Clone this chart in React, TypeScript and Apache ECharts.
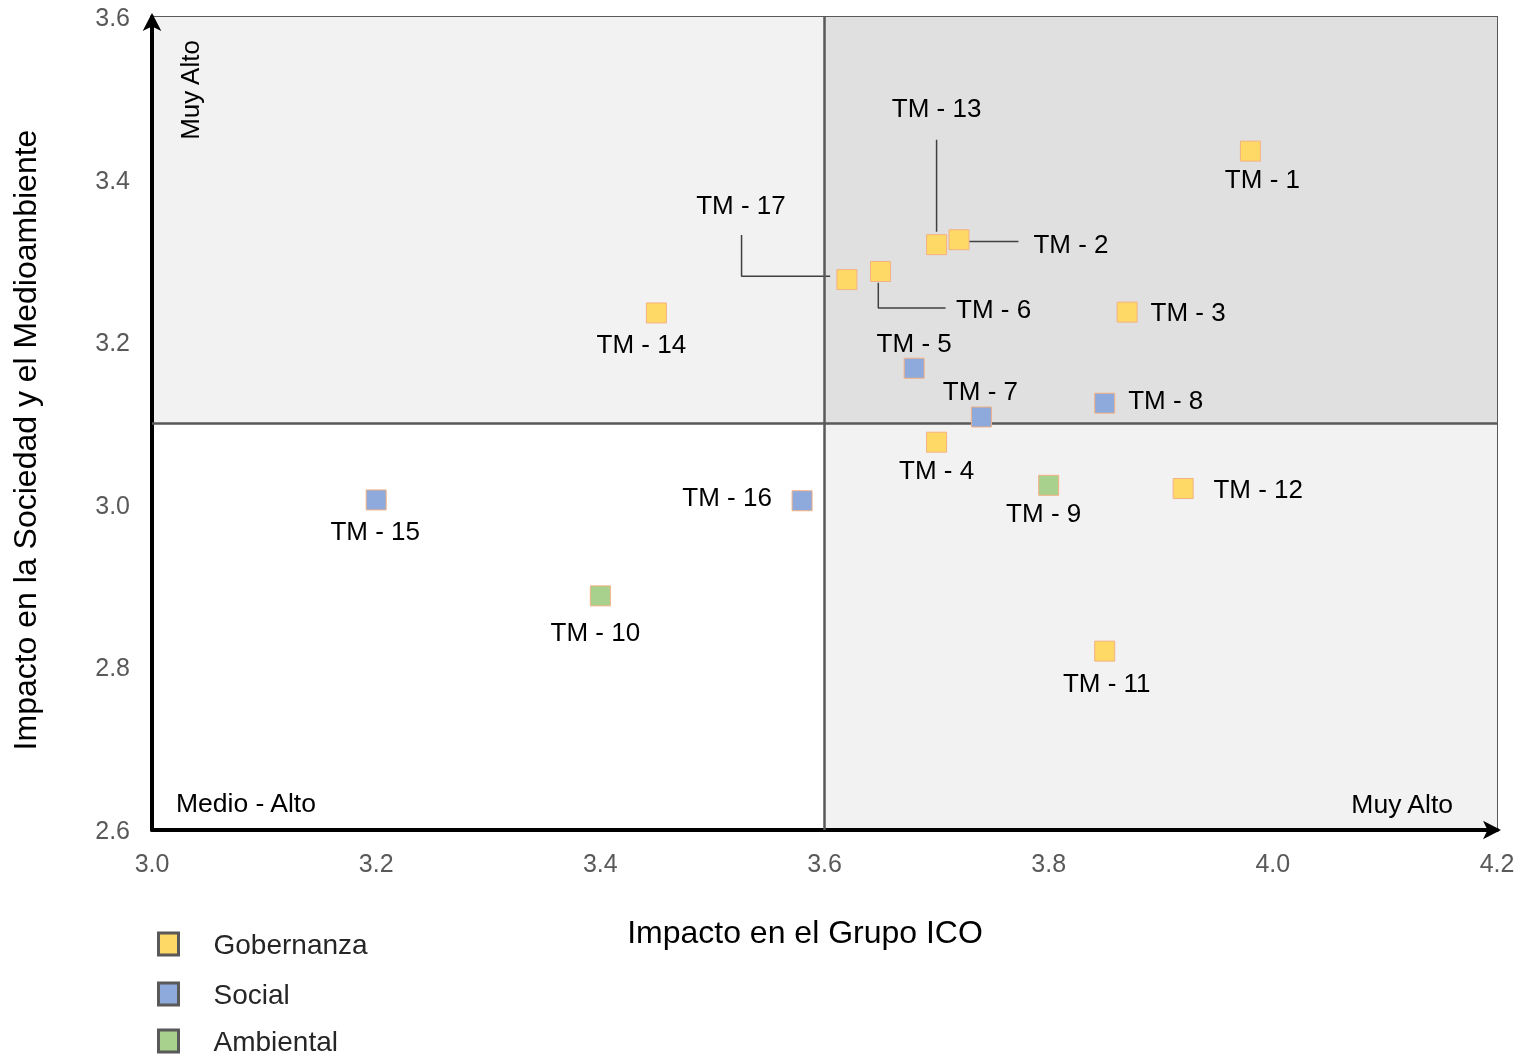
import React, { useEffect, useRef } from "react";
import * as echarts from "echarts";

// ---- data ----
const xTicks = [3.0, 4.2, 0.2]; // min, max, interval
const yTicks = [2.6, 3.6, 0.2];
const xSplit = 3.6;
const ySplit = 3.1;

const categories = ["Gobernanza", "Social", "Ambiental"];

const gobernanza: [number, number, string][] = [
  [3.98, 3.435, "TM - 1"],
  [3.70, 3.32, "TM - 13"],
  [3.72, 3.326, "TM - 2"],
  [3.62, 3.277, "TM - 17"],
  [3.65, 3.287, "TM - 6"],
  [3.45, 3.236, "TM - 14"],
  [3.87, 3.237, "TM - 3"],
  [3.70, 3.077, "TM - 4"],
  [3.92, 3.02, "TM - 12"],
  [3.85, 2.82, "TM - 11"],
];
const social: [number, number, string][] = [
  [3.68, 3.168, "TM - 5"],
  [3.85, 3.125, "TM - 8"],
  [3.74, 3.108, "TM - 7"],
  [3.20, 3.006, "TM - 15"],
  [3.58, 3.005, "TM - 16"],
];
const ambiental: [number, number, string][] = [
  [3.80, 3.024, "TM - 9"],
  [3.40, 2.888, "TM - 10"],
];

// leader lines (data coordinates)
const leader13 = [[3.70, 3.449], [3.70, 3.336]];
const leader2 = [[3.728, 3.324], [3.773, 3.324]];
const leader17 = [[3.526, 3.332], [3.526, 3.281], [3.605, 3.281]];
const leader6 = [[3.648, 3.273], [3.648, 3.242], [3.708, 3.242]];

// label offsets (style)
const labelOffset: Record<string, [number, number]> = {
  "TM - 1": [12, 28],
  "TM - 13": [0, -137],
  "TM - 2": [112, 4],
  "TM - 17": [-106, -75],
  "TM - 6": [113, 38],
  "TM - 14": [-15, 31],
  "TM - 3": [61, 0],
  "TM - 5": [0, -25],
  "TM - 7": [-1, -26],
  "TM - 8": [61, -3],
  "TM - 4": [0, 28],
  "TM - 9": [-5, 28],
  "TM - 12": [75, 0],
  "TM - 15": [-1, 31],
  "TM - 16": [-75, -4],
  "TM - 10": [-5, 36],
  "TM - 11": [2, 32],
};

const FONT = "'Liberation Sans', Arial, sans-serif";
const COLORS: Record<string, string> = { Gobernanza: "#FFD966", Social: "#8EA9DB", Ambiental: "#A9D18E" };

function toData(arr: [number, number, string][]) {
  return arr.map(([x, y, n]) => ({
    value: [x, y],
    name: n,
    label: {
      show: true,
      formatter: n,
      position: "inside",
      offset: labelOffset[n] || [0, 0],
      color: "#000",
      fontSize: 26,
      fontFamily: FONT,
    },
  }));
}

function leaderSeries(pts: number[][]) {
  return {
    type: "line",
    data: pts,
    symbol: "none",
    silent: true,
    lineStyle: { color: "#404040", width: 1.5 },
    z: 1,
  };
}

export default function App() {
  const ref = useRef<HTMLDivElement>(null);
  useEffect(() => {
    const chart = echarts.init(ref.current!, undefined, { renderer: "svg" });
    const scatterBase = (name: string, data: [number, number, string][]) => ({
      name,
      type: "scatter",
      symbol: "rect",
      symbolSize: 20,
      data: toData(data),
      itemStyle: { color: COLORS[name], borderColor: "#F4B183", borderWidth: 1, opacity: 1 },
      z: 5,
    });
    const legendTops = [925, 975, 1022];
    chart.setOption({
      animation: false,
      grid: {
        left: 152,
        top: 17,
        right: 36,
        bottom: 230,
        show: true,
        borderColor: "#595959",
        borderWidth: 2,
        backgroundColor: "transparent",
      },
      xAxis: {
        type: "value",
        min: xTicks[0],
        max: xTicks[1],
        interval: xTicks[2],
        splitLine: { show: false },
        axisTick: { show: false },
        axisLine: {
          show: true,
          onZero: false,
          lineStyle: { color: "#000", width: 4 },
          symbol: ["none", "arrow"],
          symbolSize: [14, 18],
          symbolOffset: [0, 4],
        },
        axisLabel: {
          color: "#595959",
          fontSize: 25,
          fontFamily: FONT,
          margin: 20,
          formatter: (v: number) => v.toFixed(1),
        },
      },
      yAxis: {
        type: "value",
        min: yTicks[0],
        max: yTicks[1],
        interval: yTicks[2],
        splitLine: { show: false },
        axisTick: { show: false },
        axisLine: {
          show: true,
          onZero: false,
          lineStyle: { color: "#000", width: 4 },
          symbol: ["none", "arrow"],
          symbolSize: [14, 18],
          symbolOffset: [0, 4],
        },
        axisLabel: {
          color: "#595959",
          fontSize: 25,
          fontFamily: FONT,
          margin: 22,
          formatter: (v: number) => v.toFixed(1),
        },
      },
      legend: categories.map((c, i) => ({
        orient: "vertical",
        left: 152,
        top: legendTops[i],
        data: [c],
        icon: "rect",
        itemWidth: 20,
        itemHeight: 22,
        itemStyle: { borderColor: "#595959", borderWidth: 3, opacity: 1 },
        textStyle: { fontSize: 28, color: "#262626", fontFamily: FONT, padding: [0, 0, 0, 30] },
      })),
      graphic: [
        {
          type: "text",
          x: 805,
          y: 932,
          style: { text: "Impacto en el Grupo ICO", font: `32px ${FONT}`, fill: "#000", textAlign: "center", textVerticalAlign: "middle" },
        },
        {
          type: "text",
          x: 25,
          y: 440,
          rotation: Math.PI / 2,
          style: { text: "Impacto en la Sociedad y el Medioambiente", font: `32px ${FONT}`, fill: "#000", textAlign: "center", textVerticalAlign: "middle" },
        },
        {
          type: "text",
          x: 190,
          y: 90,
          rotation: Math.PI / 2,
          z: 10,
          style: { text: "Muy Alto", font: `26px ${FONT}`, fill: "#000", textAlign: "center", textVerticalAlign: "middle" },
        },
        {
          type: "text",
          x: 176,
          y: 803,
          z: 10,
          style: { text: "Medio - Alto", font: `26.5px ${FONT}`, fill: "#000", textAlign: "left", textVerticalAlign: "middle" },
        },
        {
          type: "text",
          x: 1453,
          y: 804,
          z: 10,
          style: { text: "Muy Alto", font: `26.5px ${FONT}`, fill: "#000", textAlign: "right", textVerticalAlign: "middle" },
        },
      ],
      series: [
        {
          ...scatterBase("Gobernanza", gobernanza),
          markArea: {
            silent: true,
            z: 0,
            data: [
              [{ coord: [xTicks[0], ySplit], itemStyle: { color: "#F2F2F2", opacity: 1 } }, { coord: [xSplit, yTicks[1]] }],
              [{ coord: [xSplit, ySplit], itemStyle: { color: "#E0E0E0", opacity: 1 } }, { coord: [xTicks[1], yTicks[1]] }],
              [{ coord: [xSplit, yTicks[0]], itemStyle: { color: "#F2F2F2", opacity: 1 } }, { coord: [xTicks[1], ySplit] }],
            ],
          },
          markLine: {
            silent: true,
            symbol: "none",
            label: { show: false },
            lineStyle: { color: "#595959", width: 2.5, type: "solid" },
            data: [{ xAxis: xSplit }, { yAxis: ySplit }],
          },
        },
        scatterBase("Social", social),
        scatterBase("Ambiental", ambiental),
        leaderSeries(leader13),
        leaderSeries(leader2),
        leaderSeries(leader17),
        leaderSeries(leader6),
      ],
    });
    return () => chart.dispose();
  }, []);
  return <div ref={ref} style={{ position: "fixed", left: 0, top: 0, width: 1533, height: 1060 }} />;
}
